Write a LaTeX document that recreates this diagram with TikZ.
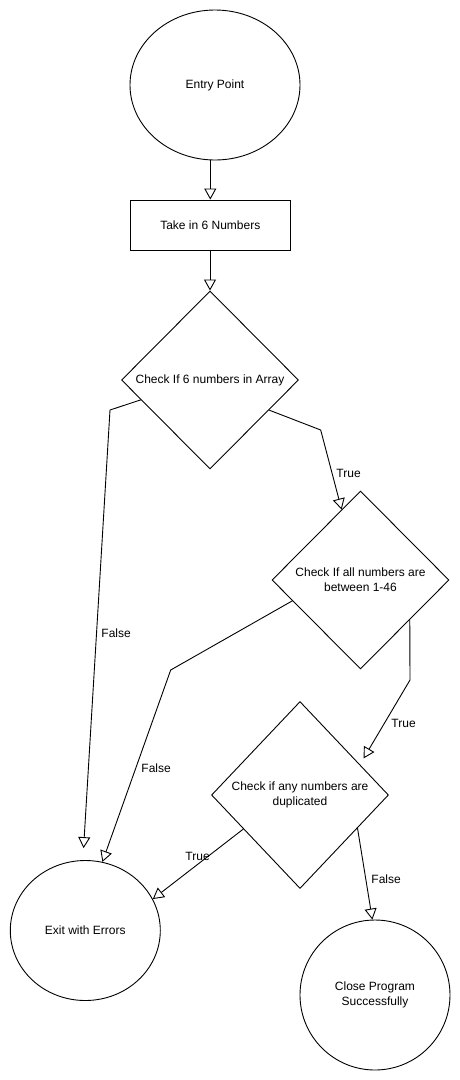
\documentclass[tikz,border=0pt]{standalone}
\usepackage{fontspec}
\setmainfont{Liberation Sans}
\usetikzlibrary{shapes.geometric,arrows.meta}
\begin{document}
\begin{tikzpicture}[x=1pt,y=-1pt,
  font=\fontsize{12}{15}\selectfont,
  line width=0.9pt,
  shp/.style={draw, inner sep=0pt, align=center},
  oval/.style={shp, ellipse},
  dec/.style={shp, diamond, minimum width=177pt, minimum height=178pt},
  conn/.style={-{Triangle[open,length=11pt,width=12pt]}},
  lbl/.style={inner sep=0pt, anchor=west}]
\useasboundingbox (0,0) rectangle (460,1080);
\fill[white] (0,0) rectangle (460,1080);
% nodes
\node[oval, minimum width=170pt, minimum height=150pt] (entry) at (215,85) {Entry Point};
\node[shp, minimum width=160.5pt, minimum height=50pt] (take) at (210.3,225) {Take in 6 Numbers};
\node[dec] (d1) at (210,380) {Check If 6 numbers in Array};
\node[dec] (d2) at (360.5,580) {Check If all numbers are\\between 1-46};
\node[dec, minimum height=187pt] (d3) at (300,795) {Check if any numbers are\\duplicated};
\node[oval, minimum width=150pt, minimum height=140pt] (exit) at (85.3,930.5) {Exit with Errors};
\node[oval, minimum width=150pt, minimum height=150pt] (close) at (375,995) {Close Program\\Successfully};
% connectors
\draw[conn] (entry.south -| take.north) -- (take.north);
\draw[conn] (take.south -| d1.north) -- (d1.north);
\draw[conn, shorten >=12pt] (d1.196) -- (110,410) -- (exit.92);
\draw[conn] (d1.333) -- (320.7,430) -- (d2.105);
\draw[conn] (d2.197) -- (170.7,670) -- (exit.76);
\draw[conn, shorten >=7pt] (d2.321) -- (410,680) -- (d3.27);
\draw[conn] (d3.211) -- (exit.25);
\draw[conn] (d3.330) -- (close.92);
% labels
\node[lbl] (lf1) at (101,633) {False};
\node[lbl] (lt1) at (336,473) {True};
\node[lbl] (lf2) at (141,768) {False};
\node[lbl] (lt2) at (391,723) {True};
\node[lbl] (lt3) at (185,856.7) {True};
\node[lbl] (lf3) at (371,879) {False};
\end{tikzpicture}
\end{document}
